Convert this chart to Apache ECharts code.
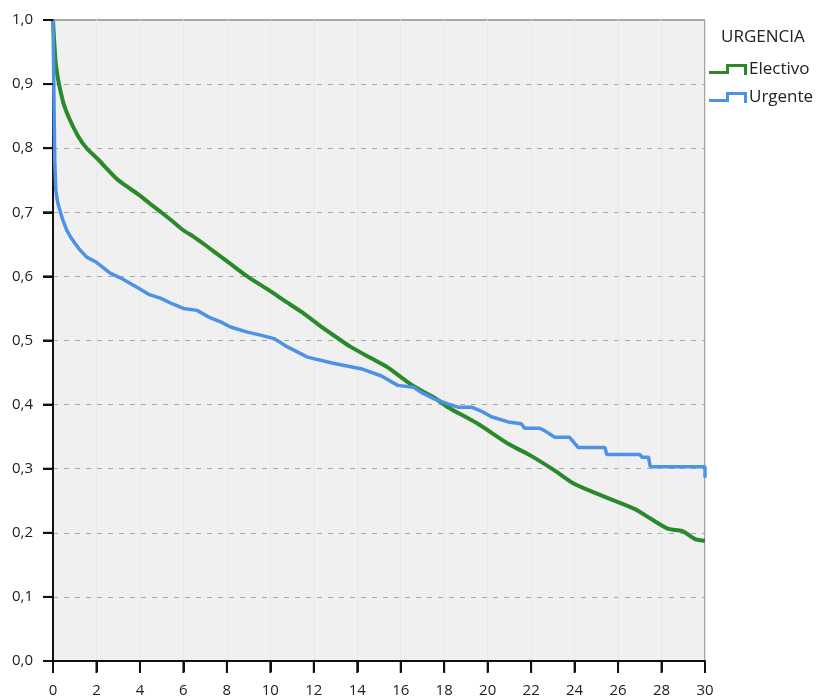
<!DOCTYPE html>
<html>
<head>
<meta charset="utf-8">
<script src="https://cdn.jsdelivr.net/npm/echarts@6/dist/echarts.min.js"></script>
<style>html,body{margin:0;padding:0;background:#fff;}#c{width:820px;height:697px;}</style>
</head>
<body>
<div id="c"></div>
<script>
const legendTitle = 'URGENCIA';
const seriesNames = ['Electivo', 'Urgente'];
const yTicks = [0, 0.1, 0.2, 0.3, 0.4, 0.5, 0.6, 0.7, 0.8, 0.9, 1.0];
const xTicks = [0, 2, 4, 6, 8, 10, 12, 14, 16, 18, 20, 22, 24, 26, 28, 30];

const electivoT = [0, 0.12, 0.22, 0.32, 0.5, 0.78, 1.17, 1.55, 2.09, 2.94, 3.5, 4.0, 4.48, 4.98, 5.5, 6.0, 6.46, 7.0, 7.55, 8.17, 8.94, 10.0, 10.63, 11.5, 12.32, 13.0, 13.7, 14.6, 15.4, 16.32, 16.94, 17.54, 18.17, 19.55, 20.94, 22.0, 23.09, 24.0, 25.25, 26.78, 27.55, 28.32, 28.94, 29.55, 30.0];
const electivoS = [1.0, 0.935, 0.91, 0.893, 0.868, 0.844, 0.818, 0.80, 0.782, 0.752, 0.738, 0.726, 0.713, 0.70, 0.686, 0.672, 0.662, 0.649, 0.635, 0.6195, 0.60, 0.577, 0.5625, 0.543, 0.522, 0.506, 0.49, 0.473, 0.458, 0.435, 0.422, 0.411, 0.396, 0.37, 0.339, 0.32, 0.297, 0.276, 0.258, 0.237, 0.221, 0.206, 0.203, 0.19, 0.1875];

const urgenteT = [0, 0.08, 0.08, 0.13, 0.13, 0.18, 0.24, 0.32, 0.45, 0.63, 0.8, 1.0, 1.2, 1.55, 2.0, 2.63, 3.2, 3.86, 4.4, 4.94, 5.5, 6.0, 6.63, 7.2, 7.71, 8.17, 8.94, 9.6, 10.17, 10.79, 11.71, 12.94, 14.17, 15.09, 15.86, 16.6, 16.94, 17.54, 18.17, 18.63, 19.25, 19.7, 20.17, 20.94, 21.55, 21.7, 22.4, 22.63, 23.09, 23.77, 24.17, 25.4, 25.48, 27.0, 27.1, 27.4, 27.48, 30.0, 30.0];
const urgenteS = [1.0, 1.0, 0.78, 0.78, 0.735, 0.722, 0.712, 0.703, 0.688, 0.672, 0.662, 0.652, 0.643, 0.63, 0.622, 0.605, 0.596, 0.583, 0.572, 0.566, 0.557, 0.55, 0.547, 0.536, 0.529, 0.521, 0.513, 0.508, 0.503, 0.49, 0.474, 0.464, 0.456, 0.445, 0.43, 0.427, 0.419, 0.409, 0.401, 0.396, 0.396, 0.39, 0.381, 0.373, 0.37, 0.363, 0.363, 0.359, 0.349, 0.349, 0.333, 0.333, 0.322, 0.322, 0.318, 0.318, 0.303, 0.303, 0.286];

const colors = ['#2a8a2a', '#4d92e6'];
const font = "'Open Sans', 'DejaVu Sans', sans-serif";

function pairs(t, s) { return t.map((x, i) => [x, s[i]]); }

const chart = echarts.init(document.getElementById('c'), null, {renderer: 'canvas'});
chart.setOption({
  animation: false,
  backgroundColor: '#ffffff',
  title: {
    text: legendTitle, left: 716, top: 24,
    textStyle: {fontFamily: font, fontSize: 17, fontWeight: 'normal', color: '#222'}
  },
  legend: {
    orient: 'vertical', left: 704, top: 56,
    data: seriesNames,
    itemWidth: 38, itemHeight: 12, itemGap: 11,
    icon: 'path://M0,7 L17,7 L17,0 L38,0 L38,11 L35,11 L35,3 L20,3 L20,10 L0,10 Z',
    textStyle: {fontFamily: font, fontSize: 17, color: '#222', padding: [0, 0, 0, -3]},
    selectedMode: false
  },
  grid: {
    left: 53, top: 20, right: 115, bottom: 36,
    outerBoundsMode: 'none', containLabel: false,
    show: true, backgroundColor: '#f0f0f0', borderColor: '#555', borderWidth: 1
  },
  xAxis: {
    type: 'value', min: 0, max: 30, interval: 2,
    axisLine: {show: true, onZero: false, lineStyle: {color: '#111', width: 2}},
    axisTick: {show: true, length: 11, lineStyle: {color: '#111', width: 2}},
    axisLabel: {margin: 22, fontFamily: font, fontSize: 15, color: '#222',
      formatter: v => xTicks.includes(v) ? String(v) : ''},
    splitLine: {show: true, lineStyle: {color: '#eae9e1', width: 1}}
  },
  yAxis: {
    type: 'value', min: 0, max: 1, interval: 0.1,
    axisLine: {show: true, onZero: false, lineStyle: {color: '#111', width: 2}},
    axisTick: {show: true, length: 10, lineStyle: {color: '#111', width: 2}},
    axisLabel: {margin: 20, fontFamily: font, fontSize: 15, color: '#222',
      formatter: v => v.toFixed(1).replace('.', ',')},
    splitLine: {show: true, lineStyle: {color: '#a8a8a8', width: 1, type: [5, 6]}}
  },
  series: [
    {
      name: seriesNames[0], type: 'line', data: pairs(electivoT, electivoS),
      symbol: 'none', z: 3, smooth: 0.25,
      lineStyle: {color: colors[0], width: 4},
      itemStyle: {color: colors[0]}
    },
    {
      name: seriesNames[1], type: 'line', data: pairs(urgenteT, urgenteS),
      symbol: 'none', z: 4,
      lineStyle: {color: colors[1], width: 3.5},
      itemStyle: {color: colors[1]}
    }
  ]
});

// Axis tick marks positioned through the chart's own scales
const tickGraphics = [];
xTicks.forEach(v => {
  const p = chart.convertToPixel({gridIndex: 0}, [v, 0]);
  tickGraphics.push({type: 'line', z: 100, silent: true,
    shape: {x1: p[0], y1: p[1], x2: p[0], y2: p[1] + 12},
    style: {stroke: '#111', lineWidth: 2}});
});
yTicks.forEach(v => {
  const p = chart.convertToPixel({gridIndex: 0}, [0, v]);
  tickGraphics.push({type: 'line', z: 100, silent: true,
    shape: {x1: p[0] - 10, y1: p[1], x2: p[0], y2: p[1]},
    style: {stroke: '#111', lineWidth: 2}});
});
chart.setOption({graphic: tickGraphics});
</script>
</body>
</html>
